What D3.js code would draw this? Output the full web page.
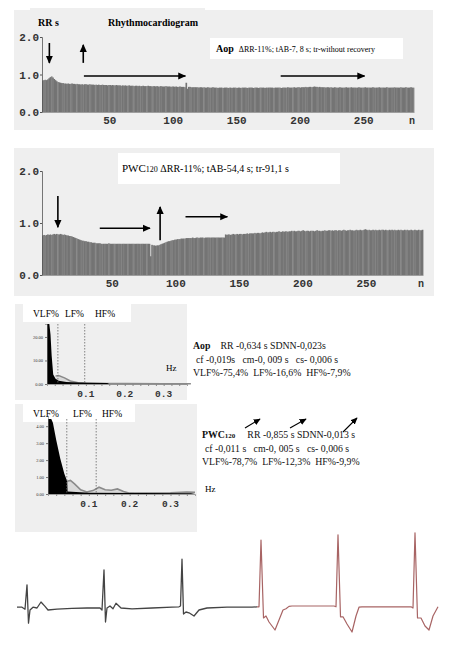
<!DOCTYPE html>
<html><head><meta charset="utf-8">
<script src="https://cdn.jsdelivr.net/npm/d3@7"></script>
<style>body{margin:0;background:#fff}svg{display:block}text{white-space:pre}</style>
</head><body>
<svg id="c" width="469" height="649"></svg>
<script>
// ---------------- DATA ----------------
// Rhythmogram 1 (Aop): RR interval, s; sequence n from -3
const rrAop = [
.84,.85,.86,.85,.87,.90,.93,.95,.92,.88,.85,.82,.80,.79,.78,.77,.77,.76,.76,.75,
.76,.75,.75,.76,.75,.75,.74,.75,.74,.74,.73,.74,.73,.74,.74,.73,.73,.74,.73,.73,
.73,.72,.73,.72,.73,.72,.72,.73,.72,.72,.72,.71,.72,.72,.71,.72,.71,.71,.72,.71,
.71,.71,.70,.71,.70,.71,.70,.70,.71,.70,.70,.70,.69,.70,.70,.69,.70,.69,.69,.70,
.69,.69,.69,.70,.69,.69,.68,.69,.69,.68,.69,.68,.68,.69,.68,.68,.68,.69,.68,.68,
.68,.67,.68,.68,.67,.68,.67,.67,.68,.67,.67,.67,.66,.78,.62,.67,.67,.66,.66,.66,
.66,.66,.66,.65,.66,.66,.65,.66,.65,.65,.66,.65,.65,.65,.66,.65,.65,.65,.64,.65,
.65,.65,.64,.65,.65,.65,.64,.65,.65,.64,.65,.65,.65,.64,.65,.65,.64,.65,.65,.65,
.65,.64,.65,.65,.65,.65,.64,.65,.65,.65,.64,.65,.65,.65,.65,.64,.65,.65,.65,.65,
.65,.65,.64,.65,.65,.65,.65,.65,.64,.65,.65,.65,.65,.66,.65,.65,.65,.65,.66,.65,
.65,.66,.66,.65,.66,.66,.66,.67,.66,.66,.67,.67,.66,.67,.68,.67,.67,.66,.67,.66,
.66,.66,.66,.65,.66,.66,.65,.66,.65,.65,.66,.65,.65,.65,.66,.65,.65,.65,.65,.66,
.65,.65,.65,.66,.65,.65,.65,.65,.65,.66,.65,.65,.65,.65,.66,.65,.65,.65,.65,.65,
.66,.65,.65,.65,.65,.66,.65,.65,.65,.65,.65,.66,.65,.65,.65,.65,.65,.66,.65,.65,
.65,.65,.66,.65,.65,.65,.66,.65,.65,.65,.66,.65,.65];
// Rhythmogram 2 (PWC120): sequence n from -5
const rrPwc = [
.76,.77,.76,.77,.78,.77,.78,.77,.78,.79,.78,.79,.78,.78,.79,.78,.77,.78,.77,.76,
.76,.75,.75,.74,.73,.72,.71,.70,.69,.68,.67,.66,.66,.65,.65,.64,.64,.63,.63,.62,
.62,.62,.61,.61,.61,.61,.60,.60,.60,.60,.60,.60,.61,.60,.60,.60,.60,.60,.60,.60,
.60,.60,.60,.60,.60,.60,.60,.60,.60,.60,.60,.60,.60,.60,.60,.60,.60,.60,.60,.60,
.60,.60,.60,.60,.60,.36,.58,.57,.57,.56,.57,.57,.58,.59,.60,.61,.62,.63,.64,.65,
.65,.66,.67,.67,.68,.68,.69,.69,.69,.70,.70,.70,.70,.71,.71,.71,.71,.71,.72,.71,
.71,.72,.72,.71,.72,.72,.72,.71,.72,.72,.72,.72,.72,.72,.72,.72,.72,.72,.72,.72,
.72,.72,.72,.72,.78,.77,.78,.78,.77,.78,.79,.78,.78,.79,.78,.79,.79,.78,.79,.79,
.79,.80,.79,.80,.80,.80,.80,.81,.80,.81,.81,.80,.81,.82,.81,.82,.83,.82,.82,.83,
.82,.83,.83,.82,.83,.83,.84,.83,.83,.84,.83,.84,.84,.83,.84,.84,.85,.84,.85,.84,
.84,.85,.85,.84,.85,.86,.85,.84,.85,.85,.84,.85,.85,.85,.84,.85,.86,.85,.85,.84,
.85,.85,.86,.85,.85,.86,.86,.85,.86,.85,.86,.86,.85,.86,.86,.85,.86,.87,.86,.85,
.86,.86,.87,.86,.86,.85,.86,.87,.86,.86,.87,.86,.86,.87,.88,.87,.86,.87,.86,.86,
.87,.86,.87,.86,.86,.87,.86,.87,.87,.86,.87,.86,.86,.87,.86,.87,.86,.87,.86,.86,
.87,.86,.87,.86,.86,.87,.86,.87,.86,.86,.87,.86,.86,.87,.86,.86,.87,.86,.86,.87];
const rrTicksX = [50,100,150,200,250];
const rrTicksY = [0,1,2];
// annotation arrows [n1, v1, n2, v2]
const arrowsAop = [[2.8,1.84,2.8,1.31],[29.5,1.31,29.5,1.79],[30,0.96,110,0.96],[185,0.96,251,0.96]];
const arrowsPwc = [[7.5,1.52,7.5,0.92],[40.5,0.90,80,0.90],[88,0.67,88,1.31],[108,1.12,141,1.12]];

// Spectra: [frequency Hz, power]
const spec1Black = [[0,25.5],[0.006,25.5],[0.009,21],[0.012,12],[0.016,4],[0.022,2.2],[0.03,1.4],[0.05,0.8],[0.08,0.6],[0.12,0.5],[0.155,0.4],[0.16,0]];
const spec1Gray  = [[0.022,3.4],[0.03,3.6],[0.045,2.6],[0.06,1.3],[0.08,0.5],[0.1,0.25],[0.2,0.15],[0.3,0.12],[0.37,0.12]];
const spec1Ticks = [0,10,20];
const spec1Bands = [0.028,0.097];
const spec2Black = [[0,4.6],[0.008,4.6],[0.012,4.2],[0.02,3.2],[0.03,2.1],[0.04,1.2],[0.047,0.75],[0.048,0.15],[0.1,0.08],[0.35,0.05],[0.36,0]];
const spec2Gray  = [[0.047,0.75],[0.055,0.8],[0.065,0.6],[0.08,0.25],[0.095,0.12],[0.11,0.2],[0.125,0.4],[0.14,0.25],[0.155,0.22],[0.17,0.3],[0.185,0.15],[0.2,0.05],[0.26,0.05],[0.3,0.07],[0.34,0.12],[0.36,0.1]];
const spec2Ticks = [0,1,2,3,4];
const spec2Bands = [0.046,0.118];
const specTicksX = [0.1,0.2,0.3];

// ECG: [time s, mV]
const ecgRest = [[0,0.02],[0.05,0.02],[0.08,-0.03],[0.10,0.58],[0.115,-0.38],[0.13,-0.05],[0.16,0.02],[0.20,0.0],[0.24,0.15],[0.28,0.04],[0.31,-0.05],[0.40,-0.03],[0.55,-0.01],[0.70,0.0],[0.83,0.0],[0.85,-0.05],[0.87,0.95],[0.885,-0.35],[0.90,0.0],[0.93,0.05],[0.96,-0.02],[0.99,0.12],[1.04,0.0],[1.15,-0.02],[1.35,0.0],[1.55,0.02],[1.62,0.03],[1.635,0.05],[1.65,1.22],[1.665,-0.15],[1.69,-0.1],[1.72,-0.12],[1.77,-0.2],[1.82,-0.05],[1.9,0.0],[2.1,0.02],[2.35,0.02],[2.40,0.03]];
const ecgLoad = [[2.40,0.03],[2.42,0.03],[2.44,1.7],[2.465,-0.25],[2.49,-0.2],[2.52,-0.35],[2.58,-0.55],[2.62,-0.3],[2.66,-0.05],[2.69,-0.02],[2.72,0.04],[2.75,0.05],[3.17,0.05],[3.19,0.03],[3.21,1.83],[3.235,-0.22],[3.26,-0.22],[3.30,-0.4],[3.35,-0.6],[3.39,-0.2],[3.42,0.02],[3.45,0.03],[3.94,0.03],[3.96,0.0],[3.98,1.88],[4.005,-0.25],[4.04,-0.25],[4.08,-0.45],[4.12,-0.55],[4.16,-0.2],[4.21,0.03]];

// ---------------- DRAW ----------------
const svg = d3.select('#c');
const serif = '"Liberation Serif","Times New Roman",serif';
const mono = '"Liberation Mono","Courier New",monospace';
const bg = '#efefef';

svg.append('rect').attr('width',469).attr('height',649).attr('fill','#fff');

function arrowHead(id,w){
  svg.append('defs').append('marker').attr('id',id).attr('viewBox','0 0 10 10')
    .attr('refX',9).attr('refY',5).attr('markerWidth',w).attr('markerHeight',w).attr('orient','auto')
    .attr('markerUnits','userSpaceOnUse')
    .append('path').attr('d','M0,0.5L10,5L0,9.5z').attr('fill','#000');
}
arrowHead('ah',8);
arrowHead('ahs',7);

function rhythmogram(o){
  const g = svg.append('g');
  g.append('rect').attr('x',o.bg[0]).attr('y',o.bg[1]).attr('width',o.bg[2]).attr('height',o.bg[3]).attr('fill',bg);
  const x = d3.scaleLinear().domain(o.xd).range(o.xr);
  const y = d3.scaleLinear().domain([0,2]).range(o.yr);
  const w = x(1)-x(0);
  g.selectAll('rect.b').data(o.values).join('rect').attr('class','b')
    .attr('x',(d,i)=>x(o.xd[0]+i)).attr('width',w+0.4)
    .attr('y',d=>y(d)).attr('height',d=>y(0)-y(d))
    .attr('fill',(d,i)=>i%5===2?'#848484':'#747474');
  // y axis
  const ya = g.append('g').attr('transform',`translate(${o.xr[0]},0)`)
    .call(d3.axisLeft(y).tickValues(rrTicksY).tickFormat(d3.format('.1f')).tickSize(2).tickPadding(1));
  ya.select('.domain').attr('stroke','#555').attr('stroke-width',0.8);
  ya.selectAll('.tick line').attr('stroke','#555');
  ya.selectAll('text').attr('font-family',mono).attr('font-weight','bold').attr('font-size',11).attr('fill','#333');
  // x axis
  const xa = g.append('g').attr('transform',`translate(0,${o.yr[0]})`)
    .call(d3.axisBottom(x).tickValues(rrTicksX).tickSize(0).tickPadding(4));
  xa.select('.domain').attr('stroke','#666').attr('stroke-width',0.6);
  xa.selectAll('text').attr('font-family',mono).attr('font-weight','bold').attr('font-size',11).attr('fill','#333');
  g.append('text').attr('x',o.nx).attr('y',o.yr[0]+12).text('n')
    .attr('font-family',mono).attr('font-weight','bold').attr('font-size',10).attr('fill','#333');
  // arrows
  g.selectAll('line.a').data(o.arrows).join('line').attr('class','a')
    .attr('x1',d=>x(d[0])).attr('y1',d=>y(d[1])).attr('x2',d=>x(d[2])).attr('y2',d=>y(d[3]))
    .attr('stroke','#000').attr('stroke-width',1.6).attr('marker-end','url(#ah)');
  return {g,x,y};
}

// Panel 1
const p1 = rhythmogram({values:rrAop, xd:[-3,290], xr:[42,414], yr:[112,37], bg:[14,10,419,120], nx:409, arrows:arrowsAop});
p1.g.append('rect').attr('x',30).attr('y',8).attr('width',175).attr('height',24).attr('fill',bg);
p1.g.append('text').attr('x',38).attr('y',26).text('RR s').attr('font-family',serif).attr('font-weight','bold').attr('font-size',10);
p1.g.append('text').attr('x',108).attr('y',26).text('Rhythmocardiogram').attr('font-family',serif).attr('font-weight','bold').attr('font-size',10);
p1.g.append('rect').attr('x',210).attr('y',38).attr('width',193).attr('height',21).attr('fill','#fff');
const t1 = p1.g.append('text').attr('x',216).attr('y',52).attr('font-family',serif);
t1.append('tspan').text('Aop').attr('font-weight','bold').attr('font-size',10);
t1.append('tspan').text(' ΔRR-11%; tAB-7, 8 s; tr-without recovery').attr('font-size',8).attr('dx',3);

// Panel 2
const p2 = rhythmogram({values:rrPwc, xd:[-5,295], xr:[42,423], yr:[275,171], bg:[14,148,420,148], nx:418, arrows:arrowsPwc});
p2.g.append('rect').attr('x',118).attr('y',153).attr('width',222).attr('height',31).attr('fill','#fff');
const t2 = p2.g.append('text').attr('x',122).attr('y',172).attr('font-family',serif).attr('font-size',11);
t2.append('tspan').text('PWC');
t2.append('tspan').text('120').attr('font-size',8);
t2.append('tspan').text(' ΔRR-11%; tAB-54,4 s; tr-91,1 s').attr('font-size',10);

// Spectra
function spectrum(o){
  const g = svg.append('g');
  g.append('rect').attr('x',o.bg[0]).attr('y',o.bg[1]).attr('width',o.bg[2]).attr('height',o.bg[3]).attr('fill',bg);
  g.append('rect').attr('x',o.bg[0]+8).attr('y',o.bg[1]).attr('width',o.lblW).attr('height',18).attr('fill','#fff');
  const x = d3.scaleLinear().domain([0,o.fmax]).range(o.xr);
  const y = d3.scaleLinear().domain([0,o.ymax]).range(o.yr);
  g.append('path').datum(o.gray).attr('d',d3.area().x(d=>x(d[0])).y0(y(0)).y1(d=>y(d[1])))
    .attr('fill','#d9d9d9');
  g.append('path').datum(o.gray).attr('d',d3.line().x(d=>x(d[0])).y(d=>y(d[1])))
    .attr('fill','none').attr('stroke','#8a8a8a').attr('stroke-width',1.6);
  g.append('path').datum(o.black).attr('d',d3.area().x(d=>x(d[0])).y0(y(0)).y1(d=>Math.max(y(d[1]),o.clipTop)))
    .attr('fill','#000');
  g.selectAll('line.band').data(o.bands).join('line').attr('class','band')
    .attr('x1',d=>x(d)).attr('x2',d=>x(d)).attr('y1',o.clipTop).attr('y2',y(0))
    .attr('stroke','#666').attr('stroke-width',0.8).attr('stroke-dasharray','1.5,1.5');
  const ya = g.append('g').attr('transform',`translate(${o.xr[0]},0)`)
    .call(d3.axisLeft(y).tickValues(o.ticks).tickFormat(d3.format('.2f')).tickSize(2).tickPadding(2));
  ya.select('.domain').attr('stroke','#777').attr('stroke-width',0.6);
  ya.selectAll('.tick line').attr('stroke','#777');
  ya.selectAll('text').attr('font-family',serif).attr('font-size',4.5).attr('fill','#333');
  const xa = g.append('g').attr('transform',`translate(0,${o.yr[0]})`)
    .call(d3.axisBottom(x).tickValues(d3.range(0.02,o.fmax,0.02)).tickSize(2).tickFormat(''));
  xa.select('.domain').attr('stroke','#888').attr('stroke-width',0.8);
  xa.selectAll('.tick line').attr('stroke','#888');
  g.selectAll('text.xt').data(specTicksX).join('text').attr('class','xt')
    .attr('x',d=>x(d)).attr('y',o.yr[0]+13).attr('text-anchor','middle').text(d=>d3.format('.1f')(d))
    .attr('font-family',mono).attr('font-weight','bold').attr('font-size',9.5).attr('fill','#333');
  g.selectAll('text.lb').data(['VLF%','LF%','HF%']).join('text').attr('class','lb')
    .attr('x',(d,i)=>o.lblX[i]).attr('y',o.bg[1]+13).text(d=>d)
    .attr('font-family',serif).attr('font-size',9.5);
  return {g,x,y};
}
const s1 = spectrum({black:spec1Black, gray:spec1Gray, ticks:spec1Ticks, bands:spec1Bands, fmax:0.36, ymax:25.5,
  xr:[47,187], yr:[384,324], bg:[15,304,172,96], lblW:108, lblX:[33,65,95], clipTop:324});
const s2 = spectrum({black:spec2Black, gray:spec2Gray, ticks:spec2Ticks, bands:spec2Bands, fmax:0.36, ymax:4.6,
  xr:[48,195], yr:[494,416], bg:[15,404,182,128], lblW:112, lblX:[33,73,102], clipTop:419});
s1.g.append('text').attr('x',166).attr('y',371).text('Hz').attr('font-family',serif).attr('font-size',9);

// text blocks
function block(x0,y0,head,headSub,lines,gap){
  const g = svg.append('g').attr('font-family',serif).attr('font-size',9.8).attr('fill','#111');
  const t = g.append('text').attr('x',x0).attr('y',y0);
  t.append('tspan').text(head).attr('font-weight','bold');
  if(headSub) t.append('tspan').text(headSub).attr('font-size',7).attr('font-weight','bold');
  t.append('tspan').text(lines[0]).attr('dx',gap);
  g.selectAll('text.l').data(lines.slice(1)).join('text').attr('class','l')
    .attr('x',(d,i)=>x0+(i===0?3:0)).attr('y',(d,i)=>y0+13.5*(i+1)).text(d=>d);
  return g;
}
block(193,349,'Aop',null,['RR -0,634 s SDNN-0,023s','cf -0,019s   cm-0, 009 s   cs- 0,006 s','VLF%-75,4%  LF%-16,6%  HF%-7,9%'],10);
block(202,438,'PWC','120',['RR -0,855 s SDNN-0,013 s','cf -0,011 s   cm-0, 005 s   cs- 0,006 s','VLF%-78,7%  LF%-12,3%  HF%-9,9%'],12);
svg.append('text').attr('x',205).attr('y',492).text('Hz').attr('font-family',serif).attr('font-size',9);
// small diagonal arrows above block 2
const dArrows = [[245,428,260,419],[290,428,306,419],[343,432,357,418]];
svg.selectAll('line.d').data(dArrows).join('line').attr('class','d')
  .attr('x1',d=>d[0]).attr('y1',d=>d[1]).attr('x2',d=>d[2]).attr('y2',d=>d[3])
  .attr('stroke','#000').attr('stroke-width',1.1).attr('marker-end','url(#ahs)');

// ECG
const ex = d3.scaleLinear().domain([0,4.21]).range([17,438]);
const ey = d3.scaleLinear().domain([-1,2]).range([648,528]);
const eline = d3.line().x(d=>ex(d[0])).y(d=>ey(d[1])).curve(d3.curveLinear);
svg.append('path').datum(ecgRest).attr('d',eline).attr('fill','none').attr('stroke','#444').attr('stroke-width',1.3).attr('stroke-linejoin','round');
svg.append('path').datum(ecgLoad).attr('d',eline).attr('fill','none').attr('stroke','#a86464').attr('stroke-width',1.2).attr('stroke-linejoin','round');
</script>
</body></html>
